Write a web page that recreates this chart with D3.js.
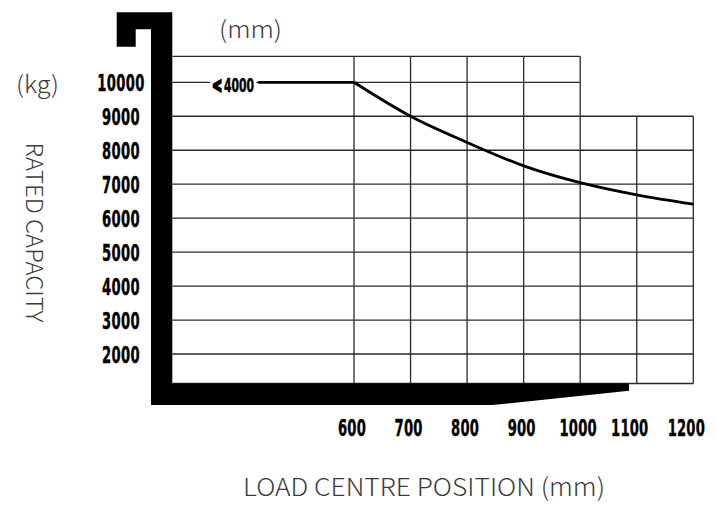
<!DOCTYPE html>
<html>
<head>
<meta charset="utf-8">
<script src="https://cdn.jsdelivr.net/npm/d3@7/dist/d3.min.js"></script>
<style>
  html, body { margin: 0; padding: 0; background: #fff; }
  svg { display: block; }
</style>
</head>
<body>
<svg id="chart" width="717" height="506"></svg>
<script>
// ---- data ----
const loadCentres = [600, 700, 800, 900, 1000, 1100, 1200];      // mm
const capacities  = [10000, 9000, 8230, 7540, 7045, 6685, 6410];  // kg
const yTickValues = [10000, 9000, 8000, 7000, 6000, 5000, 4000, 3000, 2000];
const xTickValues = [600, 700, 800, 900, 1000, 1100, 1200];
const flatArrow = "<";
const flatLabel = "4000";
const flatValue = 10000;
const xAxisTitle = "LOAD CENTRE POSITION (mm)";
const yAxisTitle = "RATED CAPACITY";
const xUnit = "(mm)";
const yUnit = "(kg)";

// ---- layout ----
const plotLeft = 172.3;
const svg = d3.select("#chart");

const x = d3.scaleLinear().domain([600, 1200]).range([354, 693.3]);
const y = d3.scaleLinear().domain([2000, 10000]).range([354, 82.3]);
const yTop = y(10000) - 26;
const yBottom = y(2000) + 29.5;

const gridColor = "#2a2a2a";
const gridW = 1.3;
const lightFont = "'Noto Sans CJK SC', 'Noto Sans', sans-serif";
const digitFont = "'DejaVu Sans Condensed', 'DejaVu Sans', sans-serif";
const greyText = "#3c3c3c";

const grid = svg.append("g");
grid.append("line").attr("x1", plotLeft).attr("x2", x(1000)).attr("y1", yTop).attr("y2", yTop);
yTickValues.forEach(v => {
  grid.append("line")
    .attr("x1", plotLeft).attr("x2", v >= 10000 ? x(1000) : x(1200))
    .attr("y1", y(v)).attr("y2", y(v));
});
grid.append("line").attr("x1", plotLeft).attr("x2", x(1200)).attr("y1", yBottom).attr("y2", yBottom);
xTickValues.forEach(v => {
  grid.append("line")
    .attr("x1", x(v)).attr("x2", x(v))
    .attr("y1", v > 1000 ? y(9000) : yTop).attr("y2", yBottom);
});
grid.selectAll("line").attr("stroke", gridColor).attr("stroke-width", gridW);

// ---- black frame ----
const Lo = plotLeft - 21.3, Bo = yBottom + 21.5;
const xr = x(1100) - 7.7, xs = x(845);
const framePts = [
  [Lo, Bo], [Lo, 29.3], [135.7, 29.3], [135.7, 46.7], [116.7, 46.7], [116.7, 12.3],
  [plotLeft, 12.3], [plotLeft, yBottom], [xr, yBottom], [xr, yBottom + 7.3], [xs, Bo]
];
svg.append("path").attr("d", d3.line()(framePts) + "Z").attr("fill", "#000");

// condensed digits: small font stretched vertically
const digitSize = 14.6, stretch = 1.62;

// ---- y tick labels ----
svg.append("g").selectAll("text").data(yTickValues).join("text")
  .attr("transform", d => `translate(121,${y(d) + 8.5}) scale(1,${stretch})`)
  .attr("text-anchor", "middle")
  .attr("font-family", digitFont).attr("font-weight", "bold").attr("font-size", digitSize)
  .attr("letter-spacing", 0.4)
  .attr("fill", "#000").attr("stroke", "#000").attr("stroke-width", 0.25)
  .text(d => d);

// ---- x tick labels ----
svg.append("g").selectAll("text").data(xTickValues).join("text")
  .attr("transform", d => `translate(${x(d) - (d > 1000 ? 7 : 2)},436) scale(1,${stretch})`)
  .attr("text-anchor", "middle")
  .attr("font-family", digitFont).attr("font-weight", "bold").attr("font-size", digitSize)
  .attr("letter-spacing", 0.2)
  .attr("fill", "#000").attr("stroke", "#000").attr("stroke-width", 0.25)
  .text(d => d);

// ---- flat segment label ----
const lblX = plotLeft + 40;
const lbl = svg.append("text")
  .attr("transform", `translate(${lblX},${y(flatValue) + 9.4}) scale(1,1.55)`)
  .attr("font-family", digitFont).attr("font-weight", "bold").attr("font-size", 12)
  .attr("fill", "#000").attr("stroke", "#000").attr("stroke-width", 0.3);
lbl.append("tspan").attr("stroke-width", 1.6).attr("font-size", 13).text(flatArrow);
lbl.append("tspan").attr("dx", 2).text(flatLabel);
const bb = lbl.node().getBBox();
svg.insert("rect", () => lbl.node())
  .attr("x", lblX - 2).attr("y", y(flatValue) - 3).attr("width", bb.width + 4).attr("height", 6)
  .attr("fill", "#fff");

// ---- capacity line ----
const lineW = 2.8;
svg.append("line")
  .attr("x1", lblX + bb.width + 4).attr("x2", x(loadCentres[0]))
  .attr("y1", y(flatValue)).attr("y2", y(flatValue))
  .attr("stroke", "#000").attr("stroke-width", lineW);
const pts = loadCentres.map((c, i) => [x(c), y(capacities[i])]);
svg.append("path")
  .attr("d", d3.line().curve(d3.curveMonotoneX)(pts))
  .attr("fill", "none").attr("stroke", "#000").attr("stroke-width", lineW);

// ---- titles ----
svg.append("text").attr("x", 250.5).attr("y", 38)
  .attr("text-anchor", "middle").attr("font-family", lightFont).attr("font-weight", 300)
  .attr("font-size", 24).attr("fill", greyText)
  .attr("textLength", 63).attr("lengthAdjust", "spacingAndGlyphs")
  .text(xUnit);
svg.append("text").attr("x", 37.5).attr("y", 93)
  .attr("text-anchor", "middle").attr("font-family", lightFont).attr("font-weight", 300)
  .attr("font-size", 24).attr("fill", greyText)
  .attr("textLength", 43).attr("lengthAdjust", "spacingAndGlyphs")
  .text(yUnit);
svg.append("text").attr("transform", "translate(26,232.5) rotate(90)")
  .attr("text-anchor", "middle").attr("font-family", lightFont).attr("font-weight", 300)
  .attr("font-size", 23).attr("fill", greyText)
  .attr("textLength", 180).attr("lengthAdjust", "spacingAndGlyphs")
  .text(yAxisTitle);
svg.append("text").attr("x", 424).attr("y", 496)
  .attr("text-anchor", "middle").attr("font-family", lightFont).attr("font-weight", 300)
  .attr("font-size", 25).attr("fill", greyText)
  .attr("textLength", 362).attr("lengthAdjust", "spacingAndGlyphs")
  .text(xAxisTitle);
</script>
</body>
</html>
